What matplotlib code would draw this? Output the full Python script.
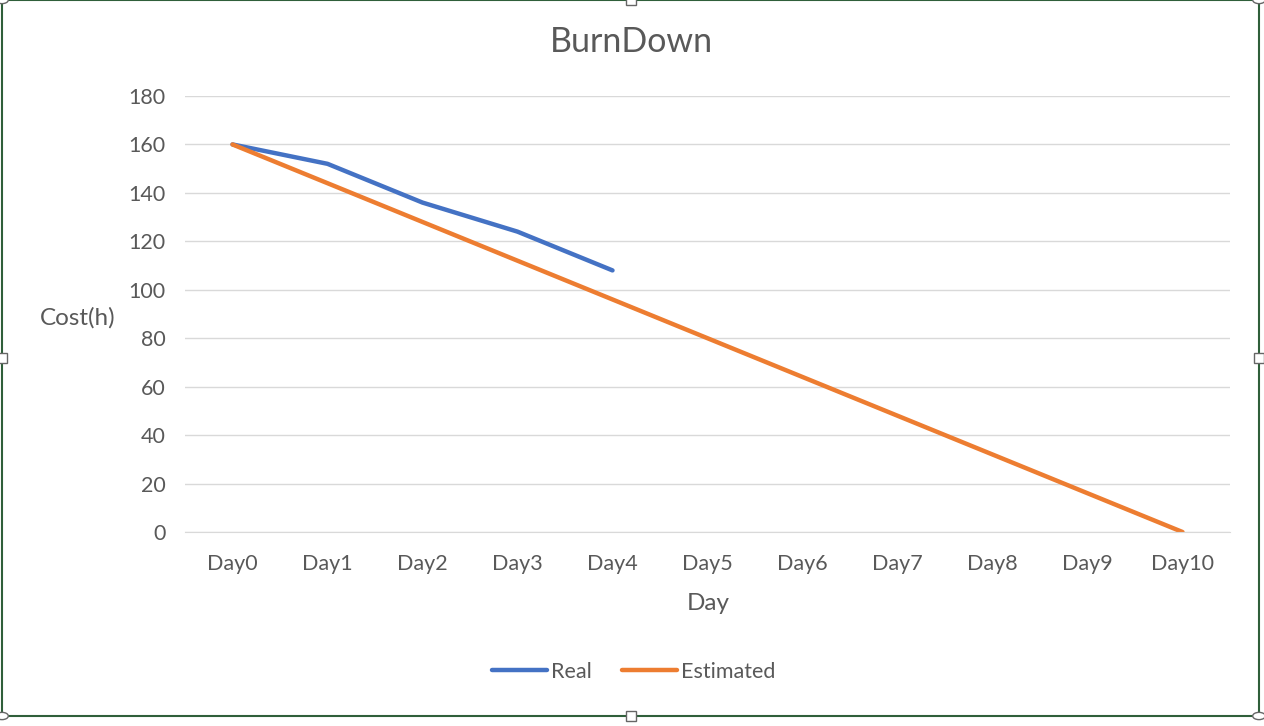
import matplotlib.pyplot as plt
from matplotlib.patches import Rectangle, Circle

days = ['Day0', 'Day1', 'Day2', 'Day3', 'Day4', 'Day5', 'Day6', 'Day7', 'Day8', 'Day9', 'Day10']
real = [160, 152, 136, 124, 108]
estimated = [160, 144, 128, 112, 96, 80, 64, 48, 32, 16, 0]
yticks = [0, 20, 40, 60, 80, 100, 120, 140, 160, 180]

plt.rcParams['font.family'] = ['Lato', 'DejaVu Sans']
gray = '#595959'

fig = plt.figure(figsize=(12.64, 7.26), dpi=100)
ax = fig.add_axes([185 / 1264, 1 - 532 / 726, 1045 / 1264, 436 / 726])

ax.plot(range(len(real)), real, color='#4472C4', lw=3.2, label='Real', solid_capstyle='round')
ax.plot(range(len(estimated)), estimated, color='#ED7D31', lw=3.2, label='Estimated', solid_capstyle='round')

ax.set_xlim(-0.5, len(days) - 0.5)
ax.set_ylim(0, 180)
ax.set_xticks(range(len(days)))
ax.set_xticklabels(days)
ax.set_yticks(yticks)
ax.grid(axis='y', color='#D9D9D9', lw=1)
ax.set_axisbelow(True)
for s in ['top', 'right', 'left']:
    ax.spines[s].set_visible(False)
ax.spines['bottom'].set_color('#D9D9D9')
ax.tick_params(axis='both', length=0, labelsize=15.5, colors=gray)
ax.tick_params(axis='y', pad=14)
ax.tick_params(axis='x', pad=16)

fig.text(631 / 1264, 1 - 42 / 726, 'BurnDown', ha='center', va='center', fontsize=24.5, color=gray)
fig.text(78 / 1264, 1 - 318 / 726, 'Cost(h)', ha='center', va='center', fontsize=17.5, color=gray)
fig.text(708 / 1264, 1 - 604 / 726, 'Day', ha='center', va='center', fontsize=17.5, color=gray)

leg = fig.legend(loc='center', bbox_to_anchor=(634 / 1264, 1 - 672 / 726), ncol=2, frameon=False,
                 fontsize=15.5, handlelength=2.55, handletextpad=0.2, columnspacing=1.4)
for t in leg.get_texts():
    t.set_color(gray)

# chart frame (selected chart in a sheet)
frame = Rectangle((2 / 1264, 1 - 716 / 726), 1257 / 1264, 716 / 726, transform=fig.transFigure,
                  fill=False, edgecolor='#2F5F3A', lw=1.5)
fig.patches.append(frame)
for (hx, hy) in [(2, 0), (1259, 0), (2, 716), (1259, 716)]:
    fig.patches.append(Circle((hx / 1264, 1 - hy / 726), 0.005, transform=fig.transFigure,
                              facecolor='white', edgecolor='#666666', lw=1))
for (hx, hy) in [(631, 0), (631, 716), (2, 358), (1259, 358)]:
    fig.patches.append(Rectangle((hx / 1264 - 0.004, 1 - hy / 726 - 0.007), 0.008, 0.014,
                                 transform=fig.transFigure, facecolor='white', edgecolor='#666666', lw=1))

fig.savefig('out.png', dpi=100)
